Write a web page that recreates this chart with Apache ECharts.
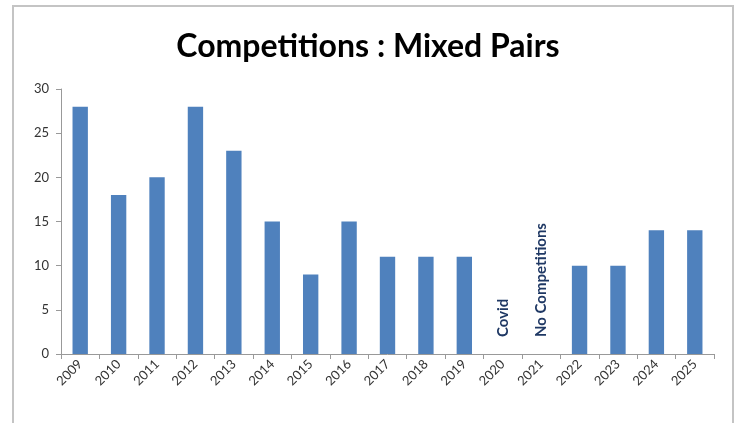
<!DOCTYPE html>
<html>
<head>
<meta charset="utf-8">
<script src="https://cdn.jsdelivr.net/npm/echarts@6/dist/echarts.min.js"></script>
<style>
html,body{margin:0;padding:0;background:#fff;}
#chart{width:736px;height:423px;}
</style>
</head>
<body>
<div id="chart"></div>
<script>
var categories = ['2009','2010','2011','2012','2013','2014','2015','2016','2017','2018','2019','2020','2021','2022','2023','2024','2025'];
var values = [28,18,20,28,23,15,9,15,11,11,11,0,0,10,10,14,14];
var notes = ['','','','','','','','','','','','Covid','No Competitions','','','',''];
var yTicks = [0,5,10,15,20,25,30];

var chart = echarts.init(document.getElementById('chart'));
var data = values.map(function(v, i){
  var item = {value: v};
  if (notes[i]) {
    item.label = {
      show: true,
      formatter: notes[i],
      position: 'insideBottom',
      rotate: 90,
      align: 'left',
      verticalAlign: 'middle',
      offset: [12, 0],
      color: '#1F3864',
      fontFamily: 'Lato',
      fontWeight: 'bold',
      fontSize: 15
    };
  }
  return item;
});
chart.setOption({
  animation: false,
  backgroundColor: '#fff',
  title: {
    text: 'Competitions : Mixed Pairs',
    left: 'center',
    top: 26,
    textStyle: {fontFamily: 'Lato', fontWeight: 'bold', fontSize: 32, color: '#000'}
  },
  graphic: [{
    type: 'rect',
    shape: {x: 13, y: 6, width: 720, height: 440},
    style: {fill: 'none', stroke: '#c4c4c4', lineWidth: 2},
    silent: true
  }],
  grid: {left: 61, right: 22, top: 89, bottom: 69},
  xAxis: {
    type: 'category',
    data: categories,
    axisLine: {lineStyle: {color: '#999', width: 1}},
    axisTick: {show: true, alignWithLabel: false, length: 5, lineStyle: {color: '#999'}},
    axisLabel: {rotate: 45, color: '#333', fontFamily: 'Lato', fontSize: 13, margin: 8, interval: 0}
  },
  yAxis: {
    type: 'value',
    min: yTicks[0],
    max: yTicks[yTicks.length - 1],
    interval: 5,
    splitLine: {show: false},
    axisLine: {show: true, lineStyle: {color: '#999', width: 1}},
    axisTick: {show: true, length: 5, lineStyle: {color: '#999'}},
    axisLabel: {color: '#333', fontFamily: 'Lato', fontSize: 13, margin: 12}
  },
  series: [{
    type: 'bar',
    data: data,
    barWidth: '40%',
    itemStyle: {color: '#4F81BD'}
  }]
});
</script>
</body>
</html>
